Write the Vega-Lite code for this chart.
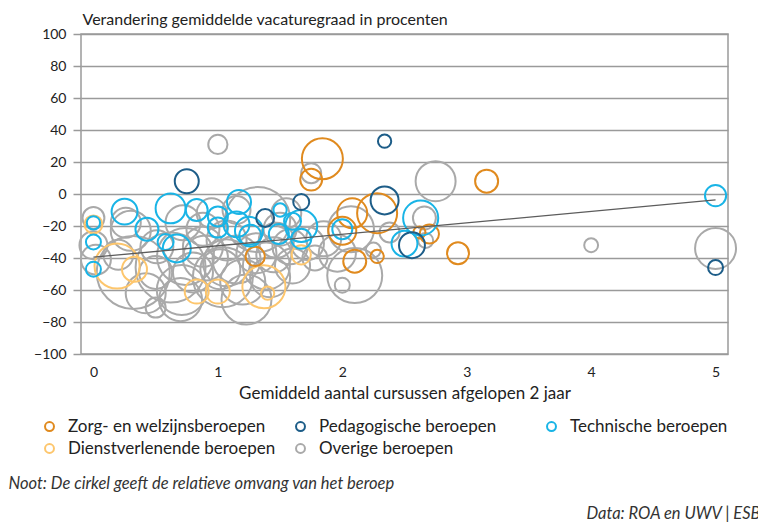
{
  "$schema": "https://vega.github.io/schema/vega-lite/v6.json",
  "width": 647,
  "height": 320,
  "autosize": {"type": "none"},
  "padding": {"left": 81, "top": 34, "right": 30, "bottom": 176},
  "background": "white",
  "config": {
    "font": "Lato",
    "view": {"stroke": "#9a9a9a", "strokeWidth": 1.5}
  },
  "datasets": {
    "beroepen": [
      {"groep": "Overige beroepen", "cursussen": 0.00, "vacaturegraad": -15, "omvang": 30},
      {"groep": "Overige beroepen", "cursussen": 0.00, "vacaturegraad": -32, "omvang": 49},
      {"groep": "Overige beroepen", "cursussen": 0.02, "vacaturegraad": -41, "omvang": 56},
      {"groep": "Overige beroepen", "cursussen": 0.26, "vacaturegraad": -18, "omvang": 56},
      {"groep": "Overige beroepen", "cursussen": 0.30, "vacaturegraad": -23, "omvang": 100},
      {"groep": "Overige beroepen", "cursussen": 0.32, "vacaturegraad": -49, "omvang": 333},
      {"groep": "Overige beroepen", "cursussen": 0.50, "vacaturegraad": -71, "omvang": 25},
      {"groep": "Overige beroepen", "cursussen": 0.51, "vacaturegraad": -33, "omvang": 68},
      {"groep": "Overige beroepen", "cursussen": 0.50, "vacaturegraad": -49, "omvang": 68},
      {"groep": "Overige beroepen", "cursussen": 0.42, "vacaturegraad": -62, "omvang": 100},
      {"groep": "Overige beroepen", "cursussen": 0.71, "vacaturegraad": -60, "omvang": 156},
      {"groep": "Overige beroepen", "cursussen": 0.70, "vacaturegraad": -66, "omvang": 116},
      {"groep": "Overige beroepen", "cursussen": 0.72, "vacaturegraad": -18, "omvang": 77},
      {"groep": "Overige beroepen", "cursussen": 0.74, "vacaturegraad": -39, "omvang": 203},
      {"groep": "Overige beroepen", "cursussen": 0.88, "vacaturegraad": -33, "omvang": 100},
      {"groep": "Overige beroepen", "cursussen": 0.88, "vacaturegraad": -22, "omvang": 68},
      {"groep": "Overige beroepen", "cursussen": 1.02, "vacaturegraad": -47, "omvang": 100},
      {"groep": "Overige beroepen", "cursussen": 1.04, "vacaturegraad": -52, "omvang": 225},
      {"groep": "Overige beroepen", "cursussen": 1.00, "vacaturegraad": 31, "omvang": 23},
      {"groep": "Overige beroepen", "cursussen": 0.80, "vacaturegraad": -49, "omvang": 100},
      {"groep": "Overige beroepen", "cursussen": 1.07, "vacaturegraad": -43, "omvang": 138},
      {"groep": "Overige beroepen", "cursussen": 1.07, "vacaturegraad": -29, "omvang": 100},
      {"groep": "Overige beroepen", "cursussen": 1.15, "vacaturegraad": -41, "omvang": 144},
      {"groep": "Overige beroepen", "cursussen": 1.23, "vacaturegraad": -66, "omvang": 156},
      {"groep": "Overige beroepen", "cursussen": 1.32, "vacaturegraad": -16, "omvang": 264},
      {"groep": "Overige beroepen", "cursussen": 1.31, "vacaturegraad": -37, "omvang": 100},
      {"groep": "Overige beroepen", "cursussen": 1.42, "vacaturegraad": -52, "omvang": 100},
      {"groep": "Overige beroepen", "cursussen": 1.47, "vacaturegraad": -29, "omvang": 77},
      {"groep": "Overige beroepen", "cursussen": 1.39, "vacaturegraad": -45, "omvang": 138},
      {"groep": "Overige beroepen", "cursussen": 1.50, "vacaturegraad": -22, "omvang": 68},
      {"groep": "Overige beroepen", "cursussen": 1.58, "vacaturegraad": -33, "omvang": 77},
      {"groep": "Overige beroepen", "cursussen": 1.72, "vacaturegraad": -31, "omvang": 68},
      {"groep": "Overige beroepen", "cursussen": 1.75, "vacaturegraad": 13, "omvang": 25},
      {"groep": "Overige beroepen", "cursussen": 1.96, "vacaturegraad": -37, "omvang": 86},
      {"groep": "Overige beroepen", "cursussen": 2.07, "vacaturegraad": -22, "omvang": 132},
      {"groep": "Overige beroepen", "cursussen": 2.10, "vacaturegraad": -51, "omvang": 189},
      {"groep": "Overige beroepen", "cursussen": 2.00, "vacaturegraad": -57, "omvang": 14},
      {"groep": "Overige beroepen", "cursussen": 2.25, "vacaturegraad": -35, "omvang": 14},
      {"groep": "Overige beroepen", "cursussen": 2.38, "vacaturegraad": -24, "omvang": 25},
      {"groep": "Overige beroepen", "cursussen": 2.75, "vacaturegraad": 8, "omvang": 100},
      {"groep": "Overige beroepen", "cursussen": 2.66, "vacaturegraad": -15, "omvang": 33},
      {"groep": "Overige beroepen", "cursussen": 2.67, "vacaturegraad": -29, "omvang": 14},
      {"groep": "Overige beroepen", "cursussen": 4.00, "vacaturegraad": -32, "omvang": 12},
      {"groep": "Overige beroepen", "cursussen": 5.00, "vacaturegraad": -34, "omvang": 105},
      {"groep": "Overige beroepen", "cursussen": 0.62, "vacaturegraad": -46, "omvang": 306},
      {"groep": "Overige beroepen", "cursussen": 1.15, "vacaturegraad": -10, "omvang": 49},
      {"groep": "Overige beroepen", "cursussen": 0.95, "vacaturegraad": -12, "omvang": 56},
      {"groep": "Overige beroepen", "cursussen": 1.55, "vacaturegraad": -12, "omvang": 56},
      {"groep": "Overige beroepen", "cursussen": 1.85, "vacaturegraad": -28, "omvang": 77},
      {"groep": "Overige beroepen", "cursussen": 1.60, "vacaturegraad": -45, "omvang": 77},
      {"groep": "Overige beroepen", "cursussen": 0.90, "vacaturegraad": -40, "omvang": 127},
      {"groep": "Overige beroepen", "cursussen": 1.20, "vacaturegraad": -55, "omvang": 127},
      {"groep": "Overige beroepen", "cursussen": 0.20, "vacaturegraad": -38, "omvang": 56},
      {"groep": "Overige beroepen", "cursussen": 1.45, "vacaturegraad": -38, "omvang": 77},
      {"groep": "Overige beroepen", "cursussen": 1.78, "vacaturegraad": -40, "omvang": 39},
      {"groep": "Dienstverlenende beroepen", "cursussen": 0.00, "vacaturegraad": -19, "omvang": 20},
      {"groep": "Dienstverlenende beroepen", "cursussen": 0.19, "vacaturegraad": -45, "omvang": 127},
      {"groep": "Dienstverlenende beroepen", "cursussen": 0.33, "vacaturegraad": -47, "omvang": 39},
      {"groep": "Dienstverlenende beroepen", "cursussen": 0.83, "vacaturegraad": -61, "omvang": 36},
      {"groep": "Dienstverlenende beroepen", "cursussen": 1.00, "vacaturegraad": -61, "omvang": 36},
      {"groep": "Dienstverlenende beroepen", "cursussen": 1.37, "vacaturegraad": -58, "omvang": 116},
      {"groep": "Dienstverlenende beroepen", "cursussen": 1.40, "vacaturegraad": -62, "omvang": 11},
      {"groep": "Dienstverlenende beroepen", "cursussen": 1.67, "vacaturegraad": -38, "omvang": 23},
      {"groep": "Zorg- en welzijnsberoepen", "cursussen": 1.84, "vacaturegraad": 22, "omvang": 105},
      {"groep": "Zorg- en welzijnsberoepen", "cursussen": 1.75, "vacaturegraad": 9, "omvang": 30},
      {"groep": "Zorg- en welzijnsberoepen", "cursussen": 2.08, "vacaturegraad": -12, "omvang": 56},
      {"groep": "Zorg- en welzijnsberoepen", "cursussen": 2.28, "vacaturegraad": -12, "omvang": 100},
      {"groep": "Zorg- en welzijnsberoepen", "cursussen": 2.00, "vacaturegraad": -23, "omvang": 49},
      {"groep": "Zorg- en welzijnsberoepen", "cursussen": 2.10, "vacaturegraad": -42, "omvang": 33},
      {"groep": "Zorg- en welzijnsberoepen", "cursussen": 2.28, "vacaturegraad": -39, "omvang": 11},
      {"groep": "Zorg- en welzijnsberoepen", "cursussen": 1.30, "vacaturegraad": -39, "omvang": 23},
      {"groep": "Zorg- en welzijnsberoepen", "cursussen": 3.16, "vacaturegraad": 8, "omvang": 33},
      {"groep": "Zorg- en welzijnsberoepen", "cursussen": 2.93, "vacaturegraad": -37, "omvang": 30},
      {"groep": "Zorg- en welzijnsberoepen", "cursussen": 2.70, "vacaturegraad": -25, "omvang": 23},
      {"groep": "Zorg- en welzijnsberoepen", "cursussen": 2.62, "vacaturegraad": -24, "omvang": 9},
      {"groep": "Technische beroepen", "cursussen": 0.00, "vacaturegraad": -18, "omvang": 11},
      {"groep": "Technische beroepen", "cursussen": 0.00, "vacaturegraad": -30, "omvang": 14},
      {"groep": "Technische beroepen", "cursussen": 0.00, "vacaturegraad": -47, "omvang": 14},
      {"groep": "Technische beroepen", "cursussen": 0.25, "vacaturegraad": -11, "omvang": 42},
      {"groep": "Technische beroepen", "cursussen": 0.43, "vacaturegraad": -22, "omvang": 33},
      {"groep": "Technische beroepen", "cursussen": 0.62, "vacaturegraad": -9, "omvang": 56},
      {"groep": "Technische beroepen", "cursussen": 0.58, "vacaturegraad": -30, "omvang": 16},
      {"groep": "Technische beroepen", "cursussen": 0.67, "vacaturegraad": -34, "omvang": 49},
      {"groep": "Technische beroepen", "cursussen": 0.83, "vacaturegraad": -10, "omvang": 30},
      {"groep": "Technische beroepen", "cursussen": 1.00, "vacaturegraad": -14, "omvang": 25},
      {"groep": "Technische beroepen", "cursussen": 1.00, "vacaturegraad": -21, "omvang": 25},
      {"groep": "Technische beroepen", "cursussen": 1.17, "vacaturegraad": -5, "omvang": 36},
      {"groep": "Technische beroepen", "cursussen": 1.15, "vacaturegraad": -19, "omvang": 42},
      {"groep": "Technische beroepen", "cursussen": 1.25, "vacaturegraad": -23, "omvang": 49},
      {"groep": "Technische beroepen", "cursussen": 1.26, "vacaturegraad": -26, "omvang": 30},
      {"groep": "Technische beroepen", "cursussen": 1.50, "vacaturegraad": -10, "omvang": 11},
      {"groep": "Technische beroepen", "cursussen": 1.49, "vacaturegraad": -25, "omvang": 25},
      {"groep": "Technische beroepen", "cursussen": 1.60, "vacaturegraad": -17, "omvang": 18},
      {"groep": "Technische beroepen", "cursussen": 1.67, "vacaturegraad": -20, "omvang": 64},
      {"groep": "Technische beroepen", "cursussen": 1.67, "vacaturegraad": -28, "omvang": 25},
      {"groep": "Technische beroepen", "cursussen": 2.00, "vacaturegraad": -22, "omvang": 25},
      {"groep": "Technische beroepen", "cursussen": 2.63, "vacaturegraad": -15, "omvang": 77},
      {"groep": "Technische beroepen", "cursussen": 2.50, "vacaturegraad": -31, "omvang": 42},
      {"groep": "Technische beroepen", "cursussen": 5.00, "vacaturegraad": -1, "omvang": 28},
      {"groep": "Pedagogische beroepen", "cursussen": 0.75, "vacaturegraad": 8, "omvang": 36},
      {"groep": "Pedagogische beroepen", "cursussen": 1.38, "vacaturegraad": -15, "omvang": 20},
      {"groep": "Pedagogische beroepen", "cursussen": 1.67, "vacaturegraad": -5, "omvang": 16},
      {"groep": "Pedagogische beroepen", "cursussen": 2.34, "vacaturegraad": 33, "omvang": 11},
      {"groep": "Pedagogische beroepen", "cursussen": 2.34, "vacaturegraad": -4, "omvang": 49},
      {"groep": "Pedagogische beroepen", "cursussen": 2.56, "vacaturegraad": -32, "omvang": 42},
      {"groep": "Pedagogische beroepen", "cursussen": 5.00, "vacaturegraad": -46, "omvang": 14}
    ],
    "trend": [
      {"cursussen": 0, "vacaturegraad": -39.5},
      {"cursussen": 5, "vacaturegraad": -3.7}
    ]
  },
  "layer": [
    {
      "data": {"name": "beroepen"},
      "mark": {"type": "point", "shape": "circle", "filled": false, "opacity": 1},
      "encoding": {
        "x": {
          "field": "cursussen", "type": "quantitative",
          "scale": {"domain": [-0.1, 5.1], "nice": false, "zero": false},
          "axis": {
            "orient": "bottom",
            "title": "Gemiddeld aantal cursussen afgelopen 2 jaar",
            "values": [0, 1, 2, 3, 4, 5],
            "grid": false, "ticks": false, "domain": false,
            "labelPadding": 11, "labelFontSize": 14, "labelColor": "#222",
            "titleFontSize": 17, "titleFontWeight": "normal", "titleColor": "#222", "titlePadding": 6
          }
        },
        "y": {
          "field": "vacaturegraad", "type": "quantitative",
          "scale": {"domain": [-100, 100], "nice": false},
          "axis": {
            "orient": "left",
            "title": "Verandering gemiddelde vacaturegraad in procenten",
            "values": [-100, -80, -60, -40, -20, 0, 20, 40, 60, 80, 100],
            "grid": true, "gridColor": "#9a9a9a", "gridWidth": 1.5,
            "ticks": true, "tickColor": "#9a9a9a", "tickWidth": 1.5, "tickSize": 8,
            "domain": false,
            "labelPadding": 7, "labelFontSize": 14, "labelColor": "#222",
            "titleAngle": 0, "titleAlign": "left", "titleBaseline": "alphabetic",
            "titleX": 1, "titleY": -10,
            "titleFontSize": 16, "titleFontWeight": "normal", "titleColor": "#222"
          }
        },
        "size": {
          "field": "omvang", "type": "quantitative",
          "scale": {"type": "linear", "domain": [0, 400], "range": [0, 6400], "zero": true},
          "legend": null
        },
        "strokeWidth": {
          "field": "groep", "type": "nominal",
          "scale": {
            "domain": ["Zorg- en welzijnsberoepen", "Pedagogische beroepen", "Technische beroepen", "Dienstverlenende beroepen", "Overige beroepen"],
            "range": [2, 2, 2, 2, 1.3]
          },
          "legend": null
        },
        "color": {
          "field": "groep", "type": "nominal",
          "scale": {
            "domain": ["Zorg- en welzijnsberoepen", "Pedagogische beroepen", "Technische beroepen", "Dienstverlenende beroepen", "Overige beroepen"],
            "range": ["#e08a1e", "#1d5d88", "#19b4e6", "#fdc66d", "#a9a9a9"]
          },
          "legend": {
            "orient": "none", "legendX": -40, "legendY": 384,
            "direction": "horizontal", "columns": 3, "title": null,
            "symbolType": "circle", "symbolSize": 80, "symbolStrokeWidth": 2,
            "labelFontSize": 17, "labelColor": "#222", "labelOffset": 10, "labelLimit": 300,
            "columnPadding": 16, "rowPadding": 4, "gridAlign": "all"
          }
        }
      }
    },
    {
      "data": {"name": "trend"},
      "mark": {"type": "line", "color": "#5c5c5c", "strokeWidth": 1.3},
      "encoding": {
        "x": {
          "field": "cursussen", "type": "quantitative",
          "scale": {"domain": [-0.1, 5.1], "nice": false, "zero": false},
          "axis": {
            "orient": "top", "labels": false, "ticks": false, "domain": false, "grid": false,
            "title": "Noot: De cirkel geeft de relatieve omvang van het beroep",
            "titleFontStyle": "italic", "titleFontWeight": "normal", "titleFontSize": 16.5, "titleColor": "#333",
            "titleAlign": "left", "titleAnchor": "start", "titleBaseline": "alphabetic",
            "titleX": -73, "titleY": 454
          }
        },
        "y": {
          "field": "vacaturegraad", "type": "quantitative",
          "scale": {"domain": [-100, 100], "nice": false},
          "axis": {
            "orient": "right", "labels": false, "ticks": false, "domain": false, "grid": false,
            "title": "Data: ROA en UWV | ESB",
            "titleAngle": 0, "titleFontStyle": "italic", "titleFontWeight": "normal", "titleFontSize": 16.5, "titleColor": "#333",
            "titleAlign": "right", "titleBaseline": "alphabetic",
            "titleX": 32, "titleY": 484
          }
        }
      }
    }
  ],
  "resolve": {"axis": {"x": "independent", "y": "independent"}}
}
